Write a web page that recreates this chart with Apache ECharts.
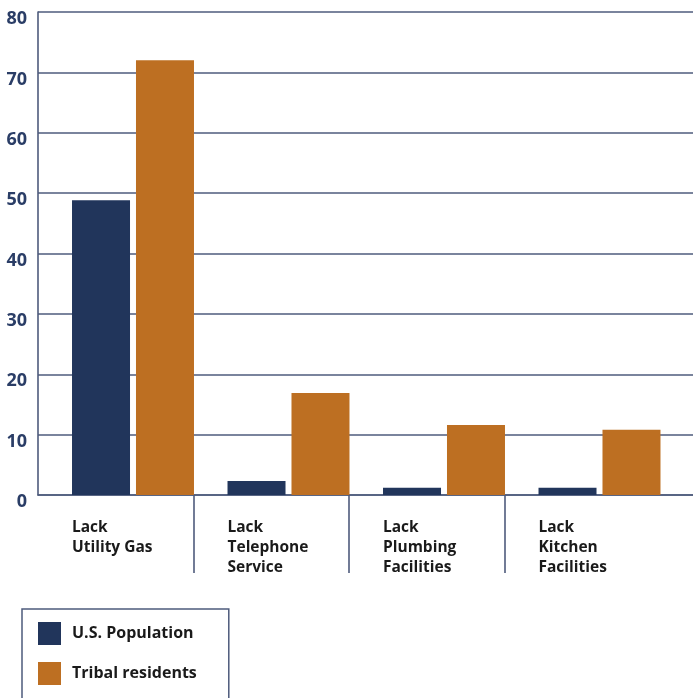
<!DOCTYPE html>
<html>
<head>
<meta charset="utf-8">
<script src="https://cdn.jsdelivr.net/npm/echarts@6/dist/echarts.min.js"></script>
<style>
  html, body { margin: 0; padding: 0; background: #fff; }
  #chart { width: 693px; height: 698px; }
</style>
</head>
<body>
<div id="chart"></div>
<script>
// chart data
const categories = ['Lack\nUtility Gas', 'Lack\nTelephone\nService', 'Lack\nPlumbing\nFacilities', 'Lack\nKitchen\nFacilities']
const usPopulation = [48.8, 2.3, 1.2, 1.2]
const tribalResidents = [72.0, 16.9, 11.6, 10.8]
const seriesNames = ['U.S. Population', 'Tribal residents']
const yTicks = { min: 0, max: 80, interval: 10 }

const navy = '#21355b'
const orange = '#bd6f22'
const lineColor = '#4e5b7c'
const fontFamily = '"Open Sans", "DejaVu Sans", sans-serif'

let myChart = echarts.init(document.getElementById('chart'))

let option = {
  animation: false,
  backgroundColor: '#fff',
  grid: [
    // bars
    { left: 55.25, right: 15.75, top: 12, bottom: 203 },
    // frame: y axis, gridlines
    { left: 38, right: 0, top: 12, bottom: 203 },
    // category separators under the axis
    { left: 193.5, width: 311, top: 495, height: 78 }
  ],
  xAxis: [
    {
      gridIndex: 0,
      type: 'category',
      data: categories,
      axisLine: { show: false },
      axisTick: { show: false },
      axisLabel: {
        margin: 23,
        interval: 0,
        formatter: function (value) {
          return value.split('\n').map(s => '{a|' + s + '}').join('\n')
        },
        rich: {
          a: {
            width: 122,
            align: 'left',
            lineHeight: 20,
            fontSize: 15.5,
            fontWeight: 'bold',
            color: '#1a1a1a',
            fontFamily: fontFamily
          }
        }
      }
    },
    {
      gridIndex: 1,
      type: 'value',
      min: 0,
      max: 1,
      axisLine: { show: true, lineStyle: { color: lineColor, width: 1.6 } },
      axisTick: { show: false },
      axisLabel: { show: false },
      splitLine: { show: false }
    },
    {
      gridIndex: 2,
      type: 'value',
      min: 0,
      max: 2,
      interval: 1,
      axisLine: { show: false },
      axisTick: { show: false },
      axisLabel: { show: false },
      splitLine: { show: true, lineStyle: { color: lineColor, width: 1.6 } }
    }
  ],
  yAxis: [
    {
      gridIndex: 0,
      type: 'value',
      min: yTicks.min,
      max: yTicks.max,
      interval: yTicks.interval,
      show: false
    },
    {
      gridIndex: 1,
      type: 'value',
      min: yTicks.min,
      max: yTicks.max,
      interval: yTicks.interval,
      axisLine: { show: true, lineStyle: { color: lineColor, width: 1.6 } },
      axisTick: { show: false },
      splitLine: { show: true, lineStyle: { color: lineColor, width: 1.6 } },
      axisLabel: {
        margin: 11,
        color: '#2a3d66',
        fontSize: 18,
        fontWeight: 'bold',
        fontFamily: fontFamily,
        verticalAlign: 'top',
        lineHeight: 14
      }
    },
    {
      gridIndex: 2,
      type: 'value',
      min: 0,
      max: 1,
      show: false
    }
  ],
  legend: {
    orient: 'vertical',
    left: 22,
    top: 609,
    width: 220,
    height: 110,
    data: seriesNames,
    icon: 'rect',
    itemWidth: 23,
    itemHeight: 23,
    itemGap: 17,
    padding: [13, 32, 20, 16],
    borderColor: lineColor,
    borderWidth: 1.5,
    textStyle: {
      color: '#1a1a1a',
      fontSize: 16,
      fontWeight: 'bold',
      fontFamily: fontFamily,
      padding: [0, 0, 0, 6]
    }
  },
  series: [
    {
      name: seriesNames[0],
      type: 'bar',
      xAxisIndex: 0,
      yAxisIndex: 0,
      data: usPopulation,
      barWidth: 58,
      barGap: '10.3%',
      itemStyle: { color: navy }
    },
    {
      name: seriesNames[1],
      type: 'bar',
      xAxisIndex: 0,
      yAxisIndex: 0,
      data: tribalResidents,
      barWidth: 58,
      barGap: '10.3%',
      itemStyle: { color: orange }
    }
  ]
}

myChart.setOption(option)
</script>
</body>
</html>
